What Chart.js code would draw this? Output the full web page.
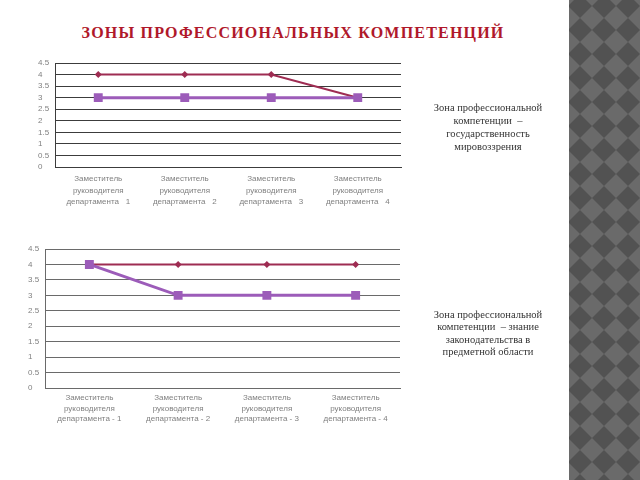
<!DOCTYPE html>
<html lang="ru">
<head>
<meta charset="utf-8">
<title>Зоны профессиональных компетенций</title>
<script src="https://cdn.jsdelivr.net/npm/chart.js@4/dist/chart.umd.min.js"></script>
<style>
  html, body { margin: 0; padding: 0; background: #fff; }
  body { width: 640px; height: 480px; position: relative; overflow: hidden; }
  #title {
    position: absolute; left: 0; top: 24px; width: 586px; text-align: center;
    font: bold 16px "Liberation Serif", "DejaVu Serif", serif; color: #b0182a;
    letter-spacing: 1.2px;
  }
  .box { position: absolute; }
  .note {
    position: absolute; width: 160px; text-align: center;
    font: 10.5px "Liberation Serif", "DejaVu Serif", serif; color: #333;
  }
  #strip {
    position: absolute; left: 569px; top: 0; width: 71px; height: 480px;
    background-color: #6a6a6a;
    background-image: url("data:image/svg+xml,%3Csvg xmlns='http://www.w3.org/2000/svg' width='24' height='24'%3E%3Cpolygon points='12,0 24,12 12,24 0,12' fill='%23525252'/%3E%3C/svg%3E");
    background-position: -1px 18px;
  }
</style>
</head>
<body>
<div id="title">ЗОНЫ ПРОФЕССИОНАЛЬНЫХ КОМПЕТЕНЦИЙ</div>

<div class="box" style="left:38px; top:52px; width:372px; height:160px;">
  <canvas id="chart1" width="372" height="160"></canvas>
</div>
<div class="box" style="left:28px; top:240px; width:382px; height:190px;">
  <canvas id="chart2" width="382" height="190"></canvas>
</div>

<div class="note" style="left:408px; top:101px; line-height:13px;">Зона профессиональной<br>компетенции &nbsp;–<br>государственность<br>мировоззрения</div>
<div class="note" style="left:408px; top:309px; line-height:12.3px;">Зона профессиональной<br>компетенции &nbsp;– знание<br>законодательства в<br>предметной области</div>

<div id="strip"></div>

<script>
// --- данные ---
const labels1 = [
  ['Заместитель', 'руководителя', 'департамента   1'],
  ['Заместитель', 'руководителя', 'департамента   2'],
  ['Заместитель', 'руководителя', 'департамента   3'],
  ['Заместитель', 'руководителя', 'департамента   4']
];
const red1 = [4, 4, 4, 3];
const purple1 = [3, 3, 3, 3];

const labels2 = [
  ['Заместитель', 'руководителя', 'департамента - 1'],
  ['Заместитель', 'руководителя', 'департамента - 2'],
  ['Заместитель', 'руководителя', 'департамента - 3'],
  ['Заместитель', 'руководителя', 'департамента - 4']
];
const red2 = [4, 4, 4, 4];
const purple2 = [4, 3, 3, 3];

const yMin = 0;
const yMax = 4.5;
const yStep = 0.5;

const RED = '#9e2c52';
const PURPLE = '#9c5cb9';

function makeChart(id, labels, red, purple, o) {
  const ctx = document.getElementById(id).getContext('2d');
  return new Chart(ctx, {
    type: 'line',
    data: {
      labels: labels,
      datasets: [
        {
          // фиолетовая серия рисуется поверх
          data: purple,
          borderColor: PURPLE,
          backgroundColor: PURPLE,
          borderWidth: 3,
          pointStyle: 'rect',
          pointRadius: 6.3,
          pointBorderWidth: 0,
          tension: 0
        },
        {
          data: red,
          borderColor: RED,
          backgroundColor: RED,
          borderWidth: 2,
          pointStyle: 'rectRot',
          pointRadius: 3.5,
          pointBorderWidth: 0,
          tension: 0
        }
      ]
    },
    options: {
      responsive: false,
      animation: false,
      layout: { padding: { top: o.top, right: o.right, left: 0, bottom: 0 } },
      plugins: { legend: { display: false }, tooltip: { enabled: false } },
      scales: {
        x: {
          offset: true,
          grid: { display: false, drawTicks: false },
          border: { display: true, color: o.grid, width: 1 },
          ticks: {
            color: '#808080', padding: o.xPad, maxRotation: 0, autoSkip: false,
            font: { family: 'Liberation Sans, DejaVu Sans, sans-serif', size: 8, lineHeight: o.lh }
          },
          afterFit: s => { s.height = o.xH; }
        },
        y: {
          min: yMin, max: yMax,
          grid: { color: o.grid, lineWidth: 1, drawTicks: false },
          border: { display: true, color: o.grid, width: 1 },
          ticks: {
            stepSize: yStep, autoSkip: false, color: '#808080', crossAlign: 'far', padding: 4,
            font: { family: 'Liberation Sans, DejaVu Sans, sans-serif', size: 8 },
            callback: v => String(v)
          },
          afterFit: s => { s.width = 17; }
        }
      }
    }
  });
}

makeChart('chart1', labels1, red1, purple1, { top: 11, right: 9, xH: 45, xPad: 6, lh: 1.45, grid: '#3c3c3c' });
makeChart('chart2', labels2, red2, purple2, { top: 9, right: 10, xH: 42, xPad: 5, lh: 1.3, grid: '#6a6a6a' });
</script>
</body>
</html>
